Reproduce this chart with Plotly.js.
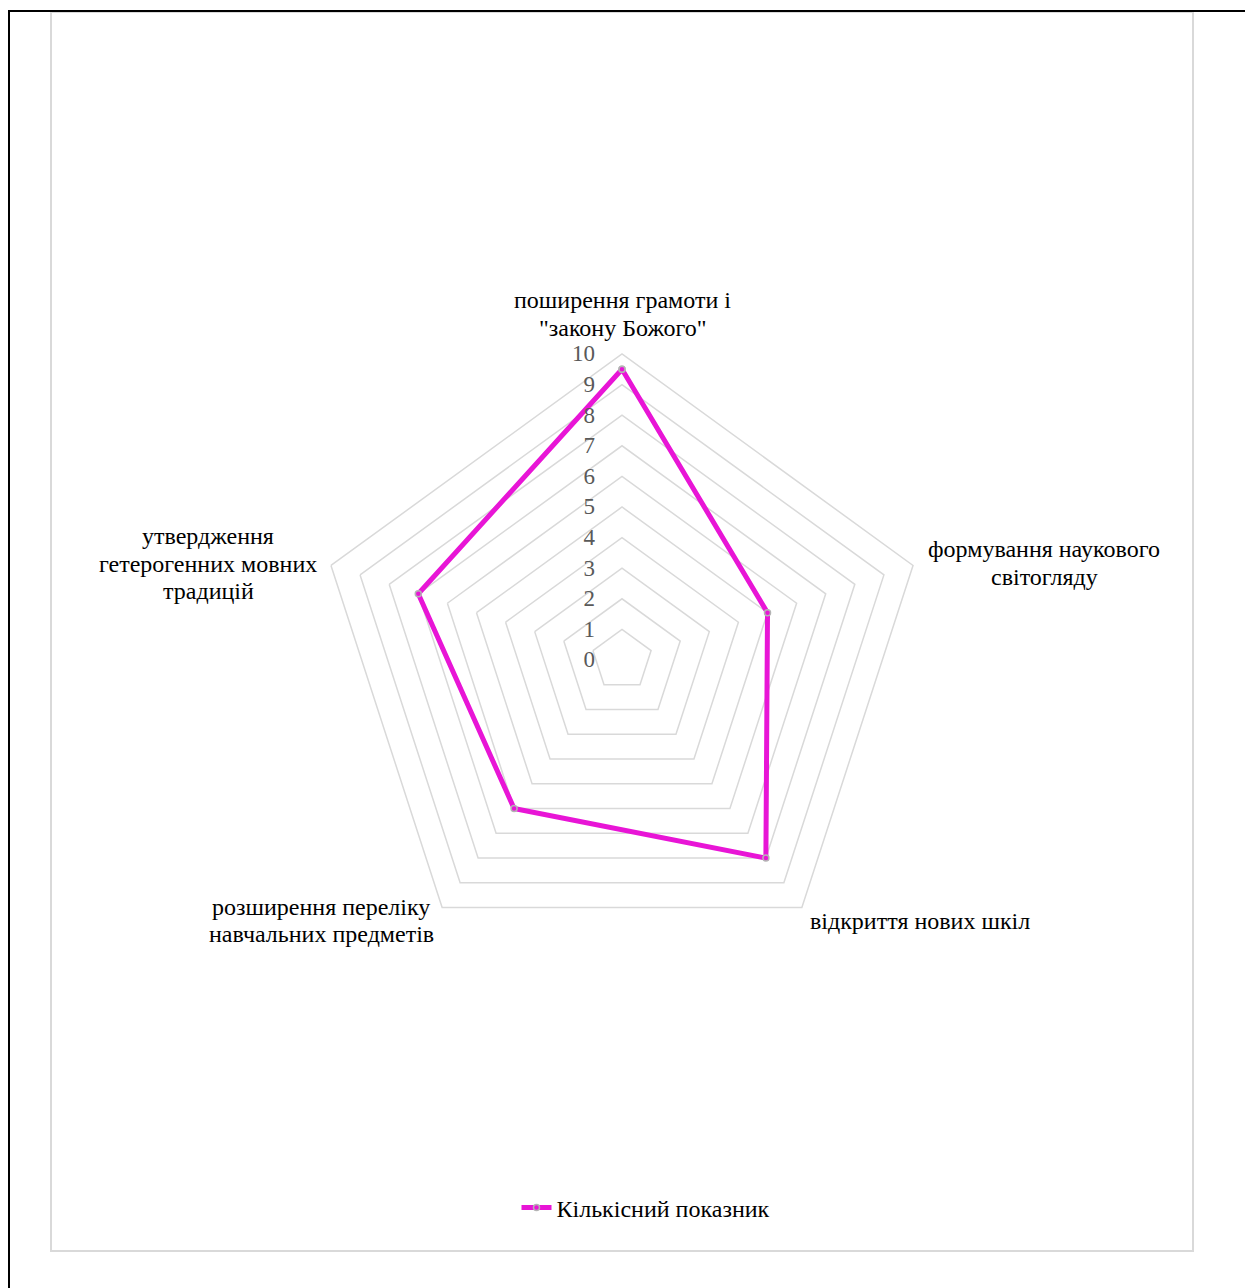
<!DOCTYPE html>
<html>
<head>
<meta charset="utf-8">
<script src="https://cdn.plot.ly/plotly-3.0.1.min.js"></script>
<style>html,body{margin:0;padding:0;background:#fff;}#chart{width:1245px;height:1288px;}</style>
</head>
<body>
<div id="chart"></div>
<script>
const categories = [
  'поширення грамоти і "закону Божого"',
  'формування наукового світогляду',
  'відкриття нових шкіл',
  'розширення переліку навчальних предметів',
  'утвердження гетерогенних мовних традицій'
];
const categoryLines = [
  ['поширення грамоти і', '"закону Божого"'],
  ['формування наукового', 'світогляду'],
  ['відкриття нових шкіл'],
  ['розширення переліку', 'навчальних предметів'],
  ['утвердження', 'гетерогенних мовних', 'традицій']
];
const values = [9.5, 5, 8, 6, 7];
const seriesName = 'Кількісний показник';
const radialTicks = [0,1,2,3,4,5,6,7,8,9,10];

const W = 1245, H = 1288;
const px = x => x / W;
const py = y => 1 - y / H;
const SERIF = 'Liberation Serif, Times New Roman, serif';
const PAD = '\u00A0\u00A0\u00A0\u00A0';

// label block positions: centre x, first-line centre y (pixels)
const labelPos = [
  {x: 622, y: 300},
  {x: 1044, y: 549},
  {x: 920, y: 921},
  {x: 321, y: 907},
  {x: 208, y: 536}
];
const LINE_STEP = 27.5;

const trace = {
  type: 'scatterpolar',
  r: values.concat([values[0]]),
  theta: categories.concat([categories[0]]),
  mode: 'lines+markers',
  name: seriesName,
  line: {color: '#e815d6', width: 5},
  marker: {size: 6, color: '#e815d6', line: {color: '#b4b4b4', width: 1.5}},
  showlegend: true
};

const annotations = [];
categoryLines.forEach((lines, i) => {
  lines.forEach((t, j) => {
    annotations.push({
      text: t, xref: 'paper', yref: 'paper',
      x: px(labelPos[i].x), y: py(labelPos[i].y + j * LINE_STEP),
      xanchor: 'center', yanchor: 'middle', showarrow: false, align: 'center',
      font: {family: SERIF, size: 24, color: '#000'}
    });
  });
});

const layout = {
  width: W, height: H,
  margin: {l: 0, r: 0, t: 0, b: 0},
  paper_bgcolor: '#fff',
  font: {family: SERIF, color: '#000'},
  polar: {
    domain: {x: [px(316), px(928)], y: [py(966), py(354)]},
    bgcolor: 'rgba(0,0,0,0)',
    gridshape: 'linear',
    radialaxis: {
      range: [0, 10], tickvals: radialTicks, ticktext: radialTicks.map(v => String(v) + PAD),
      angle: 90, tickangle: 90, side: 'counterclockwise',
      showline: false, ticks: '', gridcolor: '#d9d9d9', gridwidth: 1.5,
      tickfont: {family: SERIF, size: 23, color: '#595959'}
    },
    angularaxis: {
      direction: 'clockwise', rotation: 90,
      showgrid: false, showline: true, linecolor: '#d9d9d9', linewidth: 1.5,
      showticklabels: false, ticks: ''
    }
  },
  legend: {
    orientation: 'h', x: px(646), xanchor: 'center', y: py(1208), yanchor: 'middle',
    font: {family: SERIF, size: 24, color: '#000'},
    bgcolor: 'rgba(0,0,0,0)'
  },
  annotations: annotations,
  shapes: [
    {type: 'rect', xref: 'paper', yref: 'paper', x0: px(51), x1: px(1193), y0: py(1251), y1: py(12),
     line: {color: '#d9d9d9', width: 2}},
    {type: 'line', xref: 'paper', yref: 'paper', x0: px(8), x1: px(1245), y0: py(11), y1: py(11),
     line: {color: '#000', width: 2}},
    {type: 'line', xref: 'paper', yref: 'paper', x0: px(9), x1: px(9), y0: py(10), y1: py(1288),
     line: {color: '#000', width: 2}}
  ]
};

Plotly.newPlot('chart', [trace], layout, {displayModeBar: false, staticPlot: true});
</script>
</body>
</html>
